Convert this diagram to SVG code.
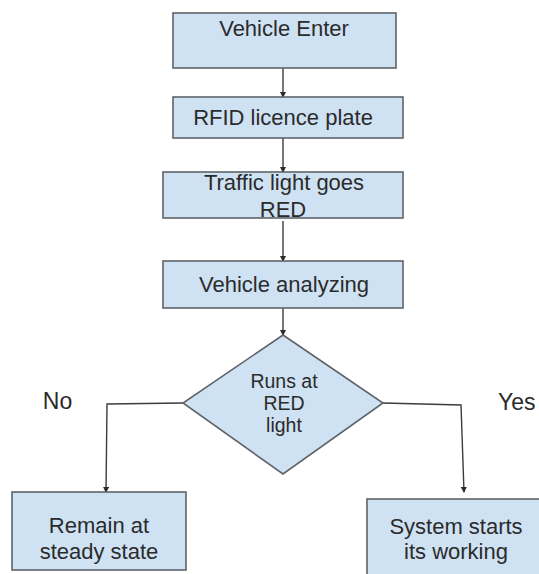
<svg xmlns="http://www.w3.org/2000/svg" width="539" height="574" viewBox="0 0 539 574">
<defs>
<style>
.box{fill:#cfe2f3;stroke:#5f6368;stroke-width:1.6}
.t{font-family:"Liberation Sans",Arial,sans-serif;font-size:22px;fill:#2b2b2b;text-anchor:middle}
.ts{font-size:19.5px}
.tl{font-size:23px}
.c{fill:none;stroke:#3c3c3c;stroke-width:1.4}
</style>
<marker id="ah" markerWidth="6" markerHeight="6" refX="5" refY="3" orient="auto" markerUnits="userSpaceOnUse">
<path d="M0,0 L6,3 L0,6 z" fill="#2b2b2b"/>
</marker>
</defs>
<rect width="539" height="574" fill="#ffffff"/>
<g id="connectors">
<path class="c" d="M283,68 V97" marker-end="url(#ah)"/>
<path class="c" d="M283,138 V172" marker-end="url(#ah)"/>
<path class="c" d="M283,221 V261" marker-end="url(#ah)"/>
<path class="c" d="M283,308 V335" marker-end="url(#ah)"/>
<path class="c" d="M183,403 L107,404 L106,492" marker-end="url(#ah)"/>
<path class="c" d="M383,403 L461,405 L464,492" marker-end="url(#ah)"/>
</g>
<g id="n1"><rect class="box" x="173" y="13" width="223" height="55"/><text class="t" x="284" y="36">Vehicle Enter</text></g>
<g id="n2"><rect class="box" x="173" y="97" width="230" height="41"/><text class="t" x="283" y="125">RFID licence plate</text></g>
<g id="n3"><rect class="box" x="163" y="172" width="240" height="46"/><text class="t" x="284" y="189.5">Traffic light goes</text><text class="t" x="283" y="216.5">RED</text></g>
<g id="n4"><rect class="box" x="163" y="261" width="240" height="47"/><text class="t" x="284" y="291.5">Vehicle analyzing</text></g>
<g id="n5"><path class="box" d="M283,335 L383,403 L283,474 L183,403 z"/><text class="t ts" x="284" y="388">Runs at</text><text class="t ts" x="284" y="410">RED</text><text class="t ts" x="284" y="431.5">light</text></g>
<g id="n6"><rect class="box" x="12" y="492" width="174" height="78"/><text class="t" x="99" y="532.5">Remain at</text><text class="t" x="99" y="559">steady state</text></g>
<g id="n7"><rect class="box" x="367" y="499" width="180" height="90"/><text class="t" x="456" y="533.5">System starts</text><text class="t" x="456" y="558.5">its working</text></g>
<g id="labels">
<text class="t tl" x="57.5" y="408.5">No</text>
<text class="t tl" x="498" y="410" style="text-anchor:start">Yes</text>
</g>
</svg>
